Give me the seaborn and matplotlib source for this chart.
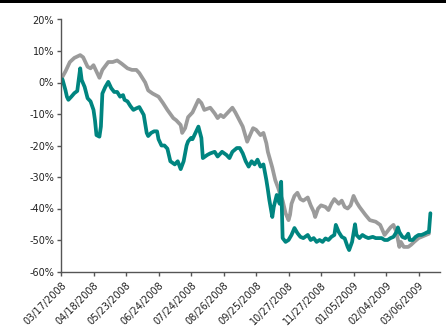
import matplotlib
matplotlib.use("Agg")
import matplotlib.pyplot as plt
import seaborn as sns
import pandas as pd
from matplotlib.patches import Rectangle

# ---- data (trading-day index, % change) ----
tick_labels = ["03/17/2008", "04/18/2008", "05/23/2008", "06/24/2008", "07/24/2008",
               "08/26/2008", "09/25/2008", "10/27/2008", "11/27/2008", "01/05/2009",
               "02/04/2009", "03/06/2009"]
tick_step = 22

gray_day = [0, 3, 6, 9, 13, 15, 18, 20, 22, 24, 26, 28, 32, 35, 38, 41, 45, 48, 51, 53,
            57, 59, 62, 66, 69, 72, 76, 78, 81, 82, 84, 86, 89, 91, 93, 95, 97, 101, 104, 106,
            108, 110, 113, 116, 118, 120, 123, 126, 130, 132, 135, 137, 139, 140, 143, 145, 147, 148, 150, 152,
            154, 155, 156, 158, 160, 162, 164, 167, 169, 171, 172, 174, 176, 179, 181, 183, 185, 188, 190, 192,
            194, 196, 198, 200, 202, 206, 209, 213, 216, 219, 223, 225, 227, 229, 230, 232, 235, 237, 239, 242,
            244, 247, 249]
gray_val = [1, 3.5, 6.5, 7.8, 8.7, 8, 5, 4.5, 5.5, 3.5, 1.5, 4, 6.5, 6.5, 7, 6, 4.5, 4, 4, 3,
            0, -2.5, -3.5, -4.5, -6.5, -8.7, -11.3, -12, -13.5, -16, -14.5, -11, -9.5, -7.5, -5.5, -6.5, -8.7, -8, -9.8, -11.3,
            -10.3, -11, -9.5, -8, -9.5, -11.3, -14, -18.8, -14.5, -15, -16.7, -16, -19.3, -22, -27, -31, -33.5, -35, -37.5, -41.5,
            -43.7, -42, -38.5, -36, -35, -37, -37.5, -36.5, -39, -41, -42.7, -40, -39, -39.5, -40.5, -38.5, -37, -38.5, -37.5, -39.5,
            -40, -39, -36, -38, -39.5, -42, -43.7, -44.2, -45.2, -48.4, -46, -45.2, -47.5, -52.2, -50.6, -52.2, -52.2, -51.5, -50.6, -49.4,
            -49, -48.4, -48]

teal_day = [0, 1, 3, 4, 5, 7, 9, 11, 13, 14, 16, 18, 20, 22, 23, 24, 26, 27, 28, 30,
            32, 34, 36, 38, 40, 42, 43, 45, 47, 49, 51, 53, 56, 58, 59, 61, 63, 65, 66, 68,
            70, 72, 74, 77, 79, 81, 83, 85, 86, 88, 89, 91, 93, 95, 96, 99, 101, 104, 106, 109,
            112, 114, 116, 119, 121, 123, 125, 127, 129, 131, 133, 135, 137, 139, 140, 141, 143, 144, 146, 148,
            149, 150, 152, 154, 156, 158, 160, 162, 164, 167, 169, 171, 173, 175, 177, 179, 181, 183, 185, 186,
            188, 190, 192, 194, 195, 197, 199, 200, 202, 204, 206, 208, 211, 213, 215, 217, 219, 221, 223, 225,
            227, 228, 229, 231, 233, 235, 236, 238, 240, 242, 244, 246, 248, 249, 250]
teal_val = [0.8, 1, -2.4, -4.5, -5.5, -4.5, -3.4, -2.7, 4.5, 0.8, -1.4, -5, -6, -8.7, -12, -16.7, -17.2, -14, -3.5, -1.4,
            0.2, -1.8, -3, -3, -4.5, -4, -5.5, -6, -7.5, -8.7, -8.2, -7.8, -10.3, -16, -17, -16, -15.5, -15.5, -18, -20,
            -20, -21, -25, -26, -25, -27.5, -25, -20, -18.7, -17.6, -18, -16, -14, -17.6, -24, -23, -22.5, -22, -23.5, -22,
            -23, -24, -22, -20.8, -20.8, -22.5, -25, -26.7, -25, -26, -24.5, -26.7, -26, -31, -34, -37.3, -42.7, -39.5, -35.7, -38.5,
            -31.5, -49.4, -50.6, -50, -48.4, -46.2, -47.8, -49, -49.4, -48.4, -50, -49.4, -50.6, -50, -50.6, -49.5, -50, -49, -48.4, -45.2,
            -47.5, -49, -49.5, -52.2, -53.2, -50.6, -45, -48.4, -49.4, -48.4, -49, -49.4, -49, -49.4, -49.4, -49.4, -50, -50, -49.4, -49,
            -47.5, -46, -47.5, -49, -49.4, -48, -50, -50, -49, -48.4, -48.4, -48, -47.5, -47.5, -41.5]

y_ticks = [-60, -50, -40, -30, -20, -10, 0, 10, 20]

gray_df = pd.DataFrame({"day": gray_day, "pct": gray_val})
teal_df = pd.DataFrame({"day": teal_day, "pct": teal_val})

sns.set_theme(style="white")
plt.rcParams["font.family"] = ["DejaVu Sans"]

W, H = 446, 331
fig = plt.figure(figsize=(W / 100, H / 100), dpi=100)
ax = fig.add_axes([61 / W, 1 - 271.5 / H, (440 - 61) / W, (271.5 - 19.5) / H])

sns.lineplot(data=gray_df, x="day", y="pct", ax=ax, color="#9b9b9b", linewidth=2.7, sort=False)
sns.lineplot(data=teal_df, x="day", y="pct", ax=ax, color="#008580", linewidth=2.7, sort=False)

ax.set_xlim(0, 256.5)
ax.set_ylim(-60, 20)
ax.set_yticks(y_ticks)
ax.set_yticklabels([f"{v}%" for v in y_ticks])
ax.set_xticks([i * tick_step for i in range(len(tick_labels))])
ax.set_xticklabels(tick_labels, rotation=45, ha="right", rotation_mode="anchor")
ax.set_xlabel("")
ax.set_ylabel("")

for s in ["top", "right"]:
    ax.spines[s].set_visible(False)
for s in ["left", "bottom"]:
    ax.spines[s].set_color("#555555")
    ax.spines[s].set_linewidth(1.0)

ax.tick_params(axis="both", which="major", direction="out", length=3, width=1,
               color="#555555", labelsize=7, labelcolor="#222222", pad=2)
ax.tick_params(axis="x", pad=3)
ax.tick_params(bottom=True, left=True)

fig.patches.append(Rectangle((0, 1 - 2.5 / H), 1, 2.5 / H, transform=fig.transFigure,
                             facecolor="black", edgecolor="none"))

fig.savefig("out.png", dpi=100, facecolor="white")
